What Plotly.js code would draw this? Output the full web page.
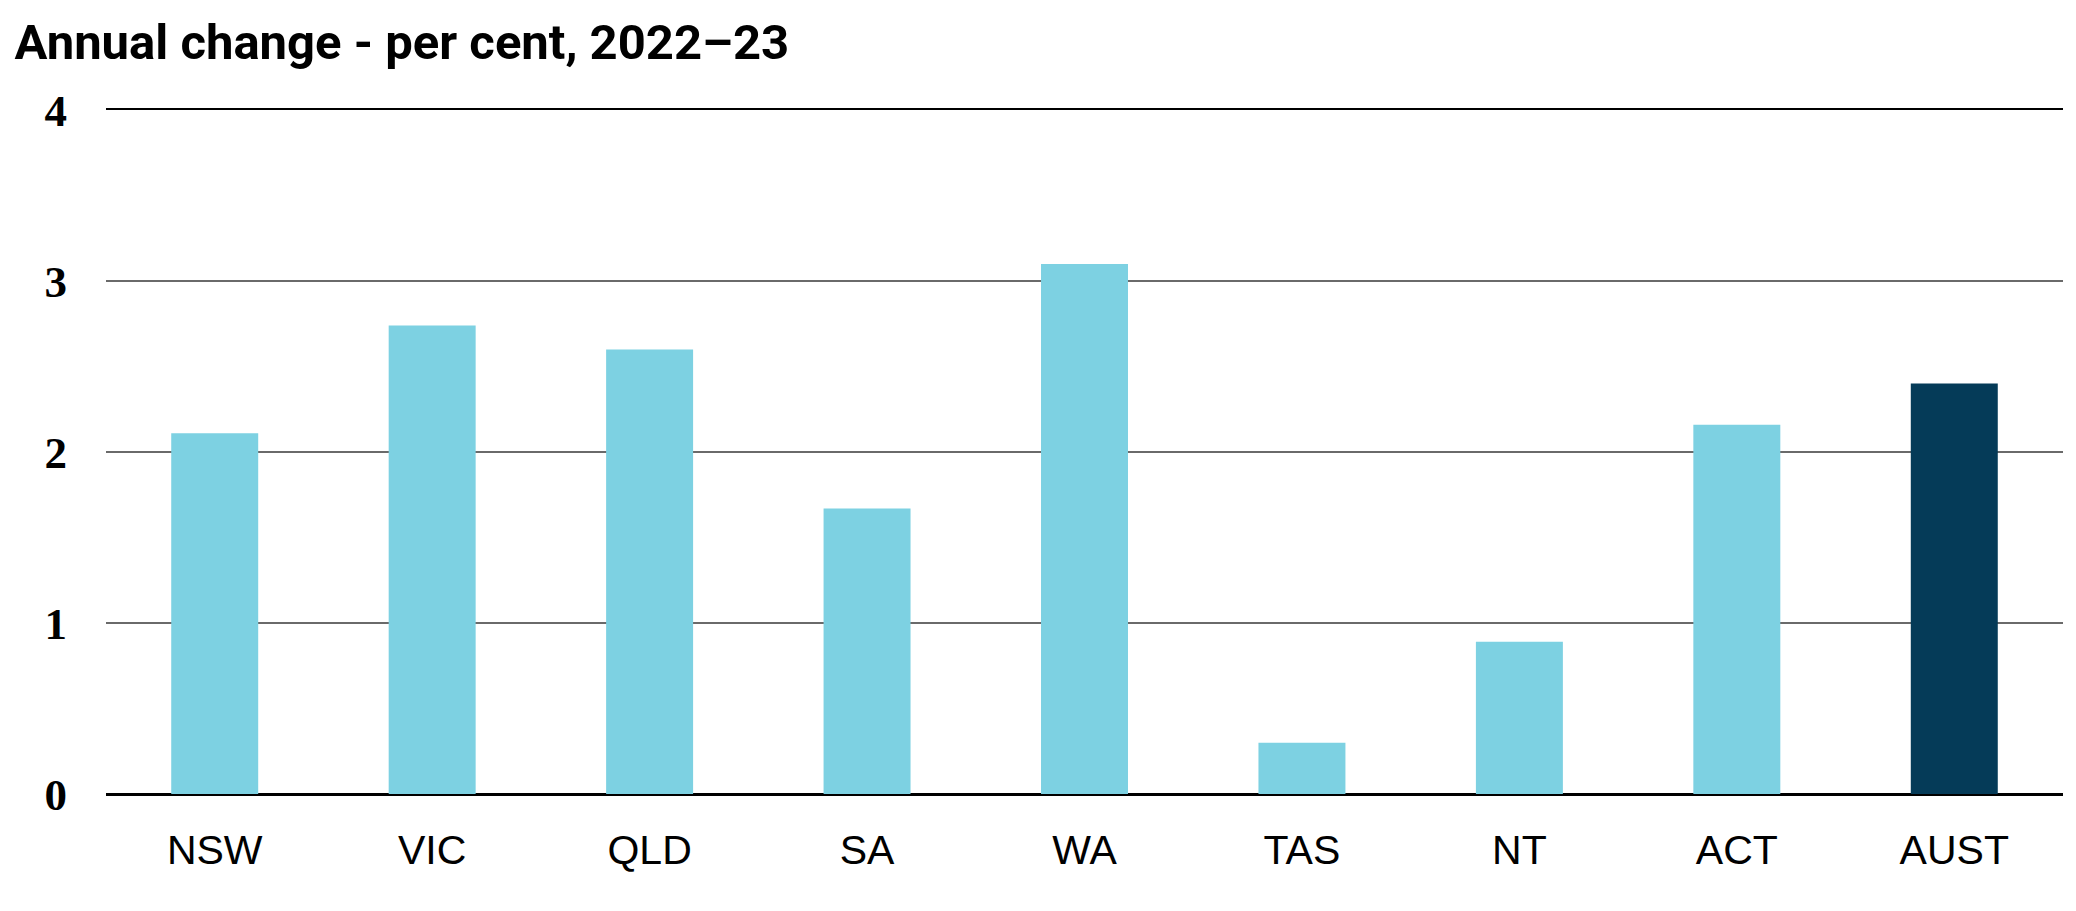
<!DOCTYPE html>
<html>
<head>
<meta charset="utf-8">
<script src="https://cdn.plot.ly/plotly-3.0.1.min.js"></script>
<style>
    html, body {margin: 0; padding: 0; background: #fff;}
    #chart {width: 2076px; height: 911px;}
</style>
</head>
<body>
<div id="chart"></div>
<script>
// states and territories, annual change per cent 2022-23
var states = ['NSW', 'VIC', 'QLD', 'SA', 'WA', 'TAS', 'NT', 'ACT', 'AUST'];
var annualChange = [2.11, 2.74, 2.60, 1.67, 3.10, 0.30, 0.89, 2.16, 2.40];
var yTicks = [0, 1, 2, 3, 4];

var stateColour = '#7dd1e2';
var totalColour = '#053b58';

var bars = {
    type: 'bar',
    x: states,
    y: annualChange,
    marker: {
        color: states.map(function (s) {
            return s === 'AUST' ? totalColour : stateColour;
        }),
    },
    hoverinfo: 'x+y',
};

var layout = {
    width: 2076,
    height: 911,
    paper_bgcolor: '#fff',
    plot_bgcolor: '#fff',
    showlegend: false,
    bargap: 0.6,
    margin: {l: 106, r: 13, t: 110, b: 117, pad: 0},
    title: {
        text: '<b>Annual change - per cent, 2022–23</b>',
        font: {family: 'Roboto, sans-serif', size: 49, color: '#000'},
        xref: 'container',
        yref: 'container',
        x: 0.007,
        xanchor: 'left',
        y: 0.973,
        yanchor: 'top',
    },
    xaxis: {
        type: 'category',
        showline: true,
        mirror: true,
        linecolor: '#000',
        linewidth: 2,
        showgrid: false,
        ticks: '',
        ticklabelstandoff: 19,
        tickfont: {family: '"Liberation Sans", Arial, sans-serif', size: 41, color: '#000'},
    },
    yaxis: {
        range: [0, 4],
        tickvals: yTicks,
        ticktext: yTicks.map(String),
        showgrid: true,
        gridcolor: '#6a6a6a',
        gridwidth: 2,
        zeroline: true,
        zerolinecolor: '#000',
        zerolinewidth: 2,
        showline: false,
        ticks: '',
        ticklabelstandoff: 38,
        tickfont: {family: '"Liberation Serif", "Times New Roman", serif', size: 45, color: '#000', weight: 'bold'},
    },
};

Plotly.newPlot('chart', [bars], layout, {displayModeBar: false, staticPlot: true});
</script>
</body>
</html>
